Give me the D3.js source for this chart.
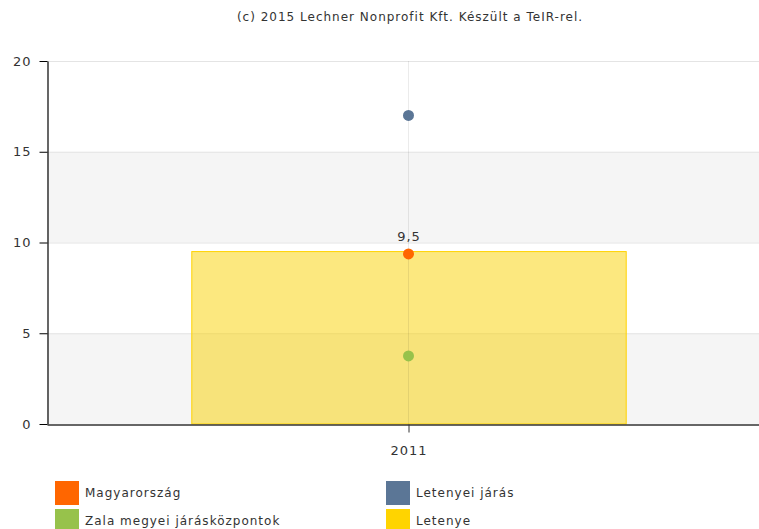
<!DOCTYPE html>
<html>
<head>
<meta charset="utf-8">
<script src="https://cdn.jsdelivr.net/npm/d3@7"></script>
<style>
  body { margin: 0; background: #fff; }
  text { font-family: Verdana, "DejaVu Sans", sans-serif; fill: #333; letter-spacing: 1px; }
</style>
</head>
<body>
<div id="chart"></div>
<script>

// data
var years = ["2011"];
var letenye = [9.5];            // bar
var magyarorszag = [9.37];      // orange point
var letenyeiJaras = [17.0];     // blue point
var zalaKozpontok = [3.75];     // green point
var yTicks = [0, 5, 10, 15, 20];

var seriesNames = ["Magyarország", "Letenyei járás", "Zala megyei járásközpontok", "Letenye"];
var seriesColors = ["#ff6600", "#5b7696", "#97c24b", "#ffd400"];

// set the dimensions and margins of the graph
var width = 759, height = 529;
var margin = {top: 61, left: 47, bottom: 105};
var plotRight = 771; // plot runs a little past the visible edge

var svg = d3.select("#chart")
  .append("svg")
    .attr("width", width)
    .attr("height", height);

// title
svg.append("text")
  .attr("x", 410)
  .attr("y", 21)
  .attr("text-anchor", "middle")
  .style("font-size", "12px")
  .text("(c) 2015 Lechner Nonprofit Kft. Készült a TeIR-rel.");

var x = d3.scaleBand()
  .domain(years)
  .range([margin.left, plotRight])
  .paddingInner(0)
  .paddingOuter(0);

var y = d3.scaleLinear()
  .domain([0, 20])
  .range([height - margin.bottom, margin.top]);

// alternating bands
for (var i = 0; i < yTicks.length - 1; i++) {
  if (i % 2 == 0) {
    svg.append("rect")
      .attr("x", margin.left)
      .attr("y", y(yTicks[i + 1]))
      .attr("width", plotRight - margin.left)
      .attr("height", y(yTicks[i]) - y(yTicks[i + 1]))
      .attr("fill", "#f5f5f5");
  }
}

// horizontal gridlines
svg.selectAll("line.hgrid")
  .data(yTicks.slice(1))
  .enter()
  .append("line")
    .attr("class", "hgrid")
    .attr("x1", margin.left)
    .attr("x2", plotRight)
    .attr("y1", function(d) { return y(d) + 0.5; })
    .attr("y2", function(d) { return y(d) + 0.5; })
    .attr("stroke", "#e4e4e4");

// bars
var barW = x.bandwidth() * 0.6;
svg.selectAll("rect.bar")
  .data(years)
  .enter()
  .append("rect")
    .attr("class", "bar")
    .attr("x", function(d) { return x(d) + (x.bandwidth() - barW) / 2; })
    .attr("y", function(d, i) { return y(letenye[i]); })
    .attr("width", barW)
    .attr("height", function(d, i) { return y(0) - y(letenye[i]); })
    .attr("fill", "#f9d100")
    .attr("fill-opacity", 0.5)
    .attr("stroke", "#ffd200")
    .attr("stroke-width", 1);

// vertical gridline
svg.selectAll("line.vgrid")
  .data(years)
  .enter()
  .append("line")
    .attr("class", "vgrid")
    .attr("x1", function(d) { return x(d) + x.bandwidth() / 2 - 0.5; })
    .attr("x2", function(d) { return x(d) + x.bandwidth() / 2 - 0.5; })
    .attr("y1", y(20))
    .attr("y2", y(0))
    .attr("stroke", "#000")
    .attr("stroke-opacity", 0.08);

// bar value label
svg.selectAll("text.val")
  .data(years)
  .enter()
  .append("text")
    .attr("class", "val")
    .attr("x", function(d) { return x(d) + x.bandwidth() / 2; })
    .attr("y", function(d, i) { return y(letenye[i]) - 11; })
    .attr("text-anchor", "middle")
    .style("font-size", "13px")
    .text(function(d, i) { return String(letenye[i]).replace(".", ","); });

// points
var pointSeries = [
  {vals: letenyeiJaras, color: seriesColors[1]},
  {vals: magyarorszag, color: seriesColors[0]},
  {vals: zalaKozpontok, color: seriesColors[2]}
];
pointSeries.forEach(function(s) {
  svg.selectAll(null)
    .data(years)
    .enter()
    .append("circle")
      .attr("cx", function(d) { return x(d) + x.bandwidth() / 2 - 0.5; })
      .attr("cy", function(d, i) { return y(s.vals[i]); })
      .attr("r", 5.5)
      .attr("fill", s.color);
});

// Y axis
var yAxis = svg.append("g")
  .attr("transform", "translate(" + (margin.left + 0.5) + ",0)")
  .call(d3.axisLeft(y).tickValues(yTicks).tickSize(8).tickSizeOuter(0));
yAxis.select(".domain").attr("stroke", "#000").attr("stroke-width", 1.2);
yAxis.selectAll(".tick line").attr("stroke", "#000");
yAxis.selectAll(".tick text")
  .attr("x", -16)
  .style("font-size", "13px")
  .style("font-family", 'Verdana, "DejaVu Sans", sans-serif')
  .attr("fill", "#333");

// X axis
var xAxis = svg.append("g")
  .attr("transform", "translate(0," + (y(0) + 0.5) + ")")
  .call(d3.axisBottom(x).tickSize(8).tickSizeOuter(0));
xAxis.select(".domain").attr("stroke", "#333").attr("stroke-width", 1.5);
xAxis.selectAll(".tick line").attr("stroke", "#333");
xAxis.selectAll(".tick text")
  .attr("y", 21)
  .style("font-size", "13px")
  .style("font-family", 'Verdana, "DejaVu Sans", sans-serif')
  .attr("fill", "#333");

// legend
var legendPos = [[55, 481], [386, 481], [55, 509], [386, 509]];
var legendOrder = [0, 1, 2, 3];
var legend = svg.selectAll("g.legend")
  .data(legendOrder)
  .enter()
  .append("g")
    .attr("class", "legend")
    .attr("transform", function(d, i) { return "translate(" + legendPos[i][0] + "," + legendPos[i][1] + ")"; });
legend.append("rect")
  .attr("width", 24)
  .attr("height", 24)
  .attr("fill", function(d) { return seriesColors[d]; });
legend.append("text")
  .attr("x", 30)
  .attr("y", 16)
  .style("font-size", "12px")
  .text(function(d) { return seriesNames[d]; });

</script>
</body>
</html>
